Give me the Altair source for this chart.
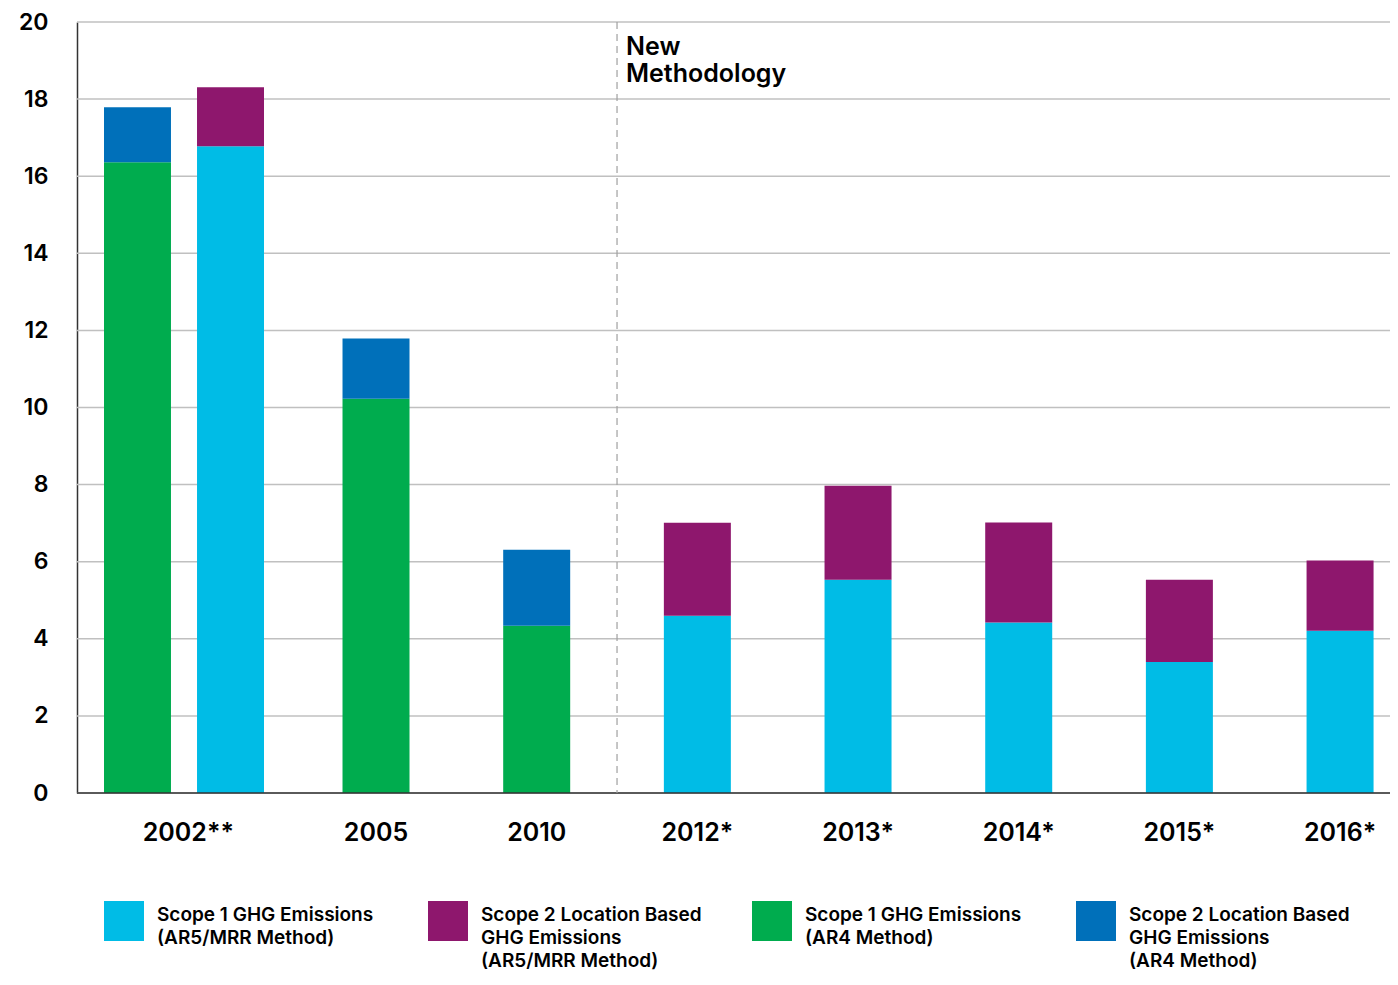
import altair as alt
import pandas as pd

groups = ["2002**", "2005", "2010", "2012*", "2013*", "2014*", "2015*", "2016*"]

series = [
    "Scope 1 GHG Emissions|(AR5/MRR Method)",
    "Scope 2 Location Based|GHG Emissions|(AR5/MRR Method)",
    "Scope 1 GHG Emissions|(AR4 Method)",
    "Scope 2 Location Based|GHG Emissions|(AR4 Method)",
]
colors = ["#00BCE6", "#8E176D", "#00AC4E", "#0070BA"]

# AR4 method bars
ar4_groups = ["2002**", "2005", "2010"]
ar4_scope1 = [16.36, 10.23, 4.34]
ar4_scope2 = [1.43, 1.56, 1.97]

# AR5 / MRR method bars
ar5_groups = ["2002**", "2012*", "2013*", "2014*", "2015*", "2016*"]
ar5_scope1 = [16.78, 4.60, 5.53, 4.42, 3.40, 4.21]
ar5_scope2 = [1.53, 2.41, 2.44, 2.60, 2.13, 1.82]

y_ticks = [0, 2, 4, 6, 8, 10, 12, 14, 16, 18, 20]

annotation_group = ["2012*"]
annotation_text = ["New|Methodology"]

rows = []
for g, s1, s2 in zip(ar4_groups, ar4_scope1, ar4_scope2):
    rows.append({"group": g, "method": "AR4", "scope": 1, "series": series[2], "value": s1})
    rows.append({"group": g, "method": "AR4", "scope": 2, "series": series[3], "value": s2})
for g, s1, s2 in zip(ar5_groups, ar5_scope1, ar5_scope2):
    rows.append({"group": g, "method": "AR5", "scope": 1, "series": series[0], "value": s1})
    rows.append({"group": g, "method": "AR5", "scope": 2, "series": series[1], "value": s2})
df = pd.DataFrame(rows)
ann = pd.DataFrame({"group": annotation_group, "text": annotation_text})
grid = pd.DataFrame({"v": y_ticks})
base_df = pd.DataFrame({"v": [0]})

FONT = "Inter"

x_scale = alt.Scale(domain=groups, range=[58, 1343.4], paddingInner=0, paddingOuter=0)
x_axis = alt.Axis(
    title=None, labelAngle=0, labelFontSize=25, labelFontWeight=600, labelColor="black",
    labelPadding=27, ticks=False, domain=False, grid=False,
    labelOffset={"condition": {"test": "datum.value === '2002**'", "value": -27}, "value": 0},
)
y_scale = alt.Scale(domain=[0, 20], nice=False)
y_axis = alt.Axis(
    title=None, values=y_ticks, labelFontSize=23, labelFontWeight=600,
    labelColor="black", labelPadding=29, ticks=False, domain=True, domainColor="#333333",
    domainWidth=1.5, grid=False,
)
color = alt.Color(
    "series:N",
    scale=alt.Scale(domain=series, range=colors),
    legend=alt.Legend(
        orient="none", legendX=27, legendY=879, direction="horizontal", columns=4,
        title=None, symbolType="square", symbolSize=1600, symbolStrokeWidth=0,
        labelFontSize=19, labelFontWeight=600, labelColor="black",
        labelExpr="split(datum.label + (length(split(datum.label, '|')) < 3 ? '| ' : ''), '|')",
        labelOffset=13, labelLimit=400,
        columnPadding=50, gridAlign="all", labelBaseline="alphabetic",
    ),
)

gridlines = alt.Chart(grid).mark_rule(color="#C0C0C0", strokeWidth=1.5).encode(
    y=alt.Y("v:Q", scale=y_scale, axis=y_axis),
)

base = alt.Chart(df)

bars_2002 = base.transform_filter(alt.datum.group == "2002**").mark_bar().encode(
    x=alt.X("group:N", scale=x_scale, axis=x_axis, sort=groups),
    xOffset=alt.XOffset("method:N", scale=alt.Scale(domain=["AR4", "AR5"], range=[-31, 129],
                                                    paddingInner=0.28, paddingOuter=0)),
    y=alt.Y("value:Q", stack="zero", scale=y_scale, axis=y_axis),
    color=color,
    order=alt.Order("scope:Q"),
)

bars_other = base.transform_filter(alt.datum.group != "2002**").mark_bar(width=67).encode(
    x=alt.X("group:N", scale=x_scale, axis=x_axis, sort=groups),
    y=alt.Y("value:Q", stack="zero", scale=y_scale, axis=y_axis),
    color=color,
    order=alt.Order("scope:Q"),
)

baseline = alt.Chart(base_df).mark_rule(color="#333333", strokeWidth=1.5).encode(
    y=alt.Y("v:Q", scale=y_scale, axis=y_axis),
)

rule = alt.Chart(ann).mark_rule(color="#A0A0A0", strokeDash=[7, 5], strokeWidth=1.2).encode(
    x=alt.X("group:N", bandPosition=0, scale=x_scale, sort=groups, axis=x_axis),
)

label = alt.Chart(ann).mark_text(
    align="left", baseline="top", dx=9, fontSize=25, fontWeight=600, lineBreak="|",
    lineHeight=27, color="black", font=FONT,
).encode(
    x=alt.X("group:N", bandPosition=0, scale=x_scale, sort=groups, axis=x_axis),
    y=alt.value(13),
    text="text:N",
)

chart = alt.layer(gridlines, bars_2002, bars_other, baseline, rule, label).properties(
    width=1313, height=771,
    autosize=alt.AutoSizeParams(type="none"),
    padding={"left": 69, "top": 14, "right": 0, "bottom": 180},
).configure(
    font=FONT, style={"guide-label": {"lineHeight": 23}}
).configure_view(stroke=None)

chart.save("out.html", embed_options={"renderer": "svg", "actions": False})
